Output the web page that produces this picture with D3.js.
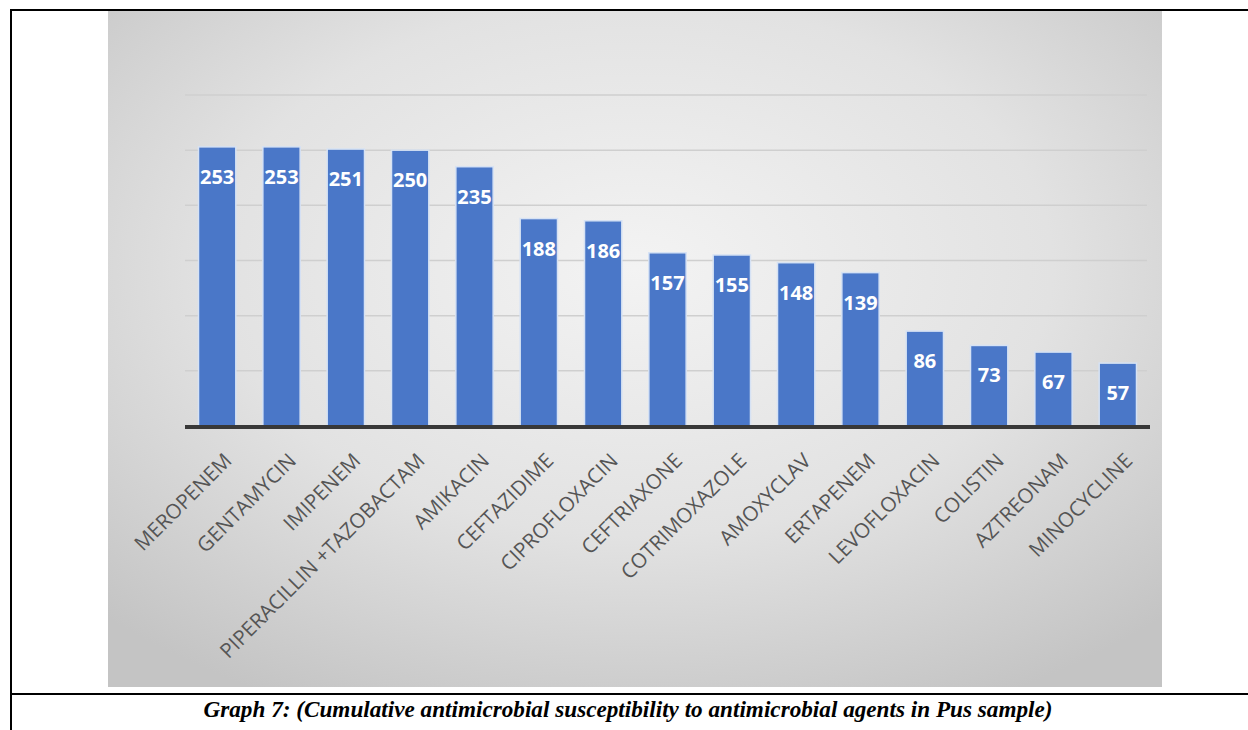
<!DOCTYPE html>
<html>
<head>
<meta charset="utf-8">
<script src="https://cdn.jsdelivr.net/npm/d3@7"></script>
<style>
  body { margin: 0; background: #fff; }
  svg { display: block; }
</style>
</head>
<body>
<div id="chart"></div>
<script>
var drugs = ["MEROPENEM", "GENTAMYCIN", "IMIPENEM", "PIPERACILLIN +TAZOBACTAM", "AMIKACIN",
  "CEFTAZIDIME", "CIPROFLOXACIN", "CEFTRIAXONE", "COTRIMOXAZOLE", "AMOXYCLAV",
  "ERTAPENEM", "LEVOFLOXACIN", "COLISTIN", "AZTREONAM", "MINOCYCLINE"]
var counts = [253, 253, 251, 250, 235, 188, 186, 157, 155, 148, 139, 86, 73, 67, 57]
var gridTicks = [50, 100, 150, 200, 250, 300]
var caption = "Graph 7: (Cumulative antimicrobial susceptibility to antimicrobial agents in Pus sample)"

var W = 1248, H = 730
// plot area inside the grey picture
var plot = {left: 185, right: 1150, top: 95, bottom: 426}

var svg = d3.select("#chart")
  .append("svg")
    .attr("width", W)
    .attr("height", H)

var defs = svg.append("defs")
var grad = defs.append("radialGradient")
    .attr("id", "bg")
    .attr("cx", "50%").attr("cy", "38%").attr("r", "72%")
grad.append("stop").attr("offset", "0%").attr("stop-color", "#f3f3f3")
grad.append("stop").attr("offset", "55%").attr("stop-color", "#e2e2e2")
grad.append("stop").attr("offset", "100%").attr("stop-color", "#c4c4c4")

// grey chart picture
svg.append("rect")
  .attr("x", 108).attr("y", 10)
  .attr("width", 1162 - 108).attr("height", 687 - 10)
  .style("fill", "url(#bg)")

var x = d3.scaleBand()
  .domain(drugs)
  .range([plot.left, plot.right])
  .paddingInner(0.42)
  .paddingOuter(0.21)

var y = d3.scaleLinear()
  .domain([0, 300])
  .range([plot.bottom, plot.top])

// gridlines
svg.append("g")
  .selectAll("line")
  .data(gridTicks)
  .enter()
  .append("line")
    .attr("x1", plot.left)
    .attr("x2", plot.right - 3)
    .attr("y1", function(d) { return y(d) })
    .attr("y2", function(d) { return y(d) })
    .style("stroke", "#cfcfcf")
    .style("stroke-width", 1.5)

// bars
svg.append("g")
  .selectAll("rect")
  .data(counts)
  .enter()
  .append("rect")
    .attr("x", function(d, i) { return x(drugs[i]) })
    .attr("y", function(d) { return y(d) })
    .attr("width", x.bandwidth())
    .attr("height", function(d) { return y(0) - y(d) })
    .style("fill", "#4a77c8")
    .style("stroke", "#d6e2f4")
    .style("stroke-width", 1.5)

// axis line
svg.append("line")
  .attr("x1", plot.left).attr("x2", plot.right)
  .attr("y1", y(0) + 1).attr("y2", y(0) + 1)
  .style("stroke", "#383838")
  .style("stroke-width", 4)

// value labels
svg.append("g")
  .selectAll("text")
  .data(counts)
  .enter()
  .append("text")
    .attr("x", function(d, i) { return x(drugs[i]) + x.bandwidth() / 2 })
    .attr("y", function(d) { return y(d) + 37 })
    .attr("text-anchor", "middle")
    .style("font-family", "'Open Sans', sans-serif")
    .style("font-weight", "bold")
    .style("font-size", "20px")
    .style("fill", "#ffffff")
    .text(function(d) { return d })

// category labels, rotated
svg.append("g")
  .selectAll("text")
  .data(drugs)
  .enter()
  .append("text")
    .attr("transform", function(d) {
      var cx = x(d) + x.bandwidth() / 2
      return "translate(" + (cx + 16) + "," + 462 + ") rotate(-45)"
    })
    .attr("text-anchor", "end")
    .style("font-family", "'Open Sans', sans-serif")
    .style("font-size", "20.5px")
    .style("fill", "#555555")
    .text(function(d) { return d })

// table borders
svg.append("line").attr("x1", 11).attr("x2", 11).attr("y1", 9).attr("y2", H)
  .style("stroke", "#000").style("stroke-width", 2)
svg.append("line").attr("x1", 10).attr("x2", W).attr("y1", 10).attr("y2", 10)
  .style("stroke", "#000").style("stroke-width", 2)
svg.append("line").attr("x1", 10).attr("x2", W).attr("y1", 694).attr("y2", 694)
  .style("stroke", "#000").style("stroke-width", 2)

svg.append("text")
  .attr("x", 628)
  .attr("y", 717)
  .attr("text-anchor", "middle")
  .style("font-family", "'Liberation Serif', 'Times New Roman', serif")
  .style("font-weight", "bold")
  .style("font-style", "italic")
  .style("font-size", "23.2px")
  .text(caption)
</script>
</body>
</html>
